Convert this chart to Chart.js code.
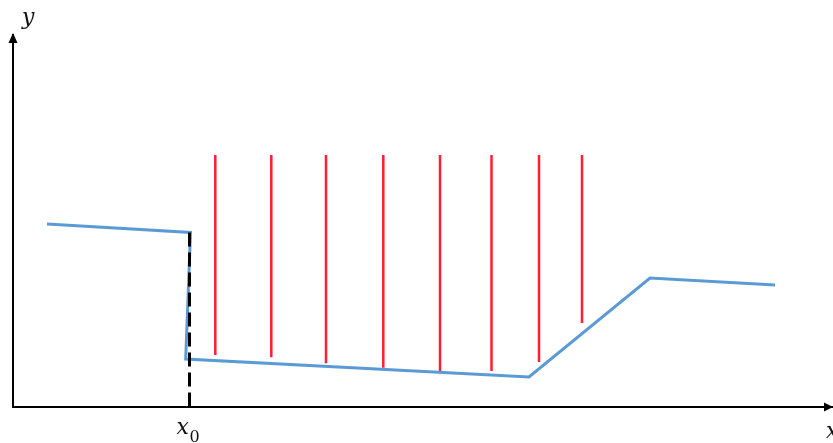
<!DOCTYPE html>
<html>
<head>
<meta charset="utf-8">
<script src="https://cdn.jsdelivr.net/npm/chart.js@4.4.1/dist/chart.umd.min.js"></script>
<style>
html,body{margin:0;padding:0;background:#fff;}
#wrap{width:833px;height:443px;position:relative;}
</style>
</head>
<body>
<div id="wrap"><canvas id="c" width="833" height="443"></canvas></div>
<script>
// Profile (blue line)
const profileX = [34, 177.5, 172.7, 516, 637, 762];
const profileY = [183, 174.5, 48, 30, 129, 122];
// Vertical red lines
const redX = [202.3, 258.3, 313, 370.3, 427, 478.5, 526, 569];
const redTop = [252, 252, 252, 252, 252, 252, 252, 252];
const redBottom = [52, 49.7, 43.7, 39.3, 35.3, 36, 45, 84];
// Dashed marker at x0
const x0Value = 176.5;
const x0Top = 174.5;
// Axis labels
const xAxisLabel = 'x';
const yAxisLabel = 'y';
const x0Label = 'x';
const x0Sub = '0';

const profile = profileX.map((x, i) => ({x, y: profileY[i]}));
const reds = [];
redX.forEach((x, i) => {
  reds.push({x, y: redTop[i]});
  reds.push({x, y: redBottom[i]});
  reds.push({x, y: null});
});
const dashed = [{x: x0Value, y: x0Top}, {x: x0Value, y: 0}];

const decor = {
  id: 'decor',
  afterDraw(chart) {
    const ctx = chart.ctx;
    const xs = chart.scales.x, ys = chart.scales.y;
    const ox = xs.getPixelForValue(0), oy = ys.getPixelForValue(0);
    const top = ys.getPixelForValue(ys.max);
    const right = xs.getPixelForValue(xs.max);
    ctx.save();
    ctx.fillStyle = '#000';
    // y arrow
    ctx.beginPath();
    ctx.moveTo(ox, top - 2);
    ctx.lineTo(ox - 4.5, top + 8);
    ctx.lineTo(ox + 4.5, top + 8);
    ctx.closePath();
    ctx.fill();
    // x arrow
    ctx.beginPath();
    ctx.moveTo(right + 1, oy);
    ctx.lineTo(right - 8, oy - 4.5);
    ctx.lineTo(right - 8, oy + 4.5);
    ctx.closePath();
    ctx.fill();
    // labels
    ctx.fillStyle = '#111';
    ctx.textBaseline = 'alphabetic';
    ctx.font = 'italic 22px "DejaVu Serif"';
    ctx.textAlign = 'left';
    ctx.fillText(yAxisLabel, ox + 9, 24);
    ctx.fillText(xAxisLabel, right - 6, oy + 31);
    const x0px = xs.getPixelForValue(x0Value);
    ctx.fillText(x0Label, x0px - 13, oy + 27);
    ctx.font = '16px "DejaVu Serif"';
    ctx.fillText(x0Sub, x0px + 0, oy + 35);
    ctx.restore();
  }
};

new Chart(document.getElementById('c'), {
  type: 'scatter',
  data: {
    datasets: [
      {data: dashed, showLine: true, borderColor: '#000', borderWidth: 3, borderDash: [14, 6], pointRadius: 0, fill: false, order: 0},
      {data: reds, showLine: true, borderColor: '#ff1f33', borderWidth: 2.5, pointRadius: 0, spanGaps: false, fill: false, order: 2},
      {data: profile, showLine: true, borderColor: '#5b9bd5', borderWidth: 3, pointRadius: 0, fill: false, order: 1}
    ]
  },
  options: {
    responsive: false,
    animation: false,
    layout: {padding: {left: 13, right: 1, top: 35, bottom: 36}},
    plugins: {legend: {display: false}, tooltip: {enabled: false}},
    scales: {
      x: {type: 'linear', min: 0, max: 819,
        grid: {display: false, drawTicks: false},
        ticks: {display: false},
        border: {display: true, color: '#000', width: 2},
        afterFit(s) { s.height = 0; }},
      y: {type: 'linear', min: 0, max: 372,
        grid: {display: false, drawTicks: false},
        ticks: {display: false},
        border: {display: true, color: '#000', width: 2},
        afterFit(s) { s.width = 0; }}
    }
  },
  plugins: [decor]
});
</script>
</body>
</html>
